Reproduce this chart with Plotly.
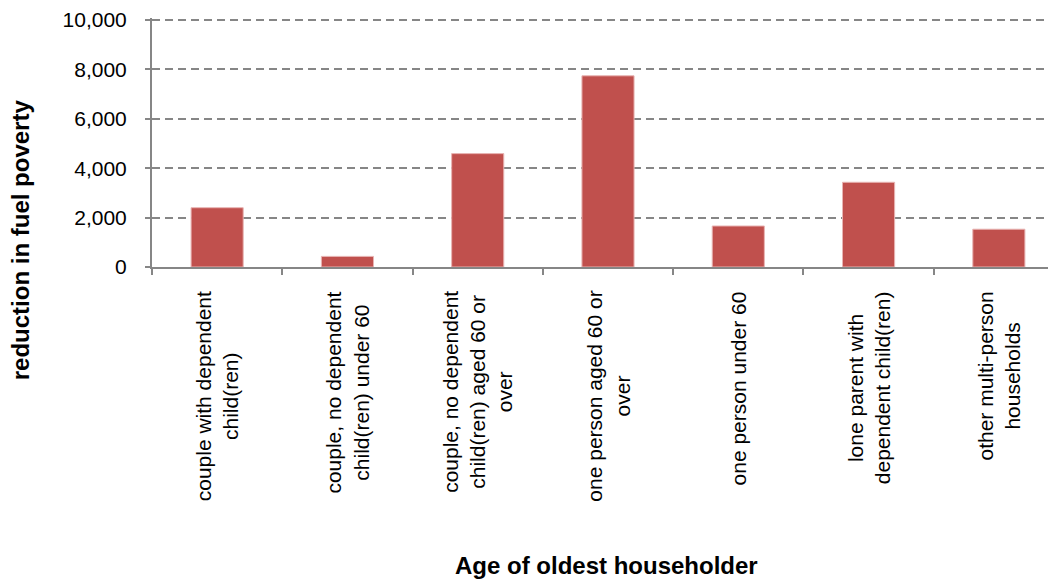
import plotly.graph_objects as go

categories = [
    "couple with dependent<br>child(ren)",
    "couple, no dependent<br>child(ren) under 60",
    "couple, no dependent<br>child(ren) aged 60 or<br>over",
    "one person aged 60 or<br>over",
    "one person under 60",
    "lone parent with<br>dependent child(ren)",
    "other multi-person<br>households",
]
reduction = [2400, 430, 4590, 7740, 1660, 3430, 1530]
y_ticks = [0, 2000, 4000, 6000, 8000, 10000]

FONT = "Liberation Sans, Arial, sans-serif"
AXIS = "#868686"

fig = go.Figure()
fig.add_trace(go.Bar(
    x=categories, y=reduction,
    marker=dict(color="#C0504D", line=dict(color="#E8B4B3", width=1)),
    width=0.4,
))

for c in categories:
    fig.add_annotation(
        x=c, xref="x", y=-0.089, yref="paper",
        text=c, textangle=-90, showarrow=False,
        xanchor="center", yanchor="top", align="center",
        font=dict(family=FONT, size=21, color="#000000"),
    )

fig.add_annotation(
    x=-0.1447, xref="paper", y=0.1076, yref="paper",
    text="<b>reduction in fuel poverty</b>", textangle=-90, showarrow=False,
    xanchor="center", yanchor="middle",
    font=dict(family=FONT, size=24, color="#000000"),
)
fig.add_annotation(
    x=0.498, xref="paper", y=-1.199, yref="paper",
    text="<b>Age of oldest householder</b>", showarrow=False,
    xanchor="center", yanchor="middle",
    font=dict(family=FONT, size=24, color="#000000"),
)

fig.update_layout(
    width=1056, height=583,
    margin=dict(l=144, r=0, t=8, b=324),
    paper_bgcolor="white", plot_bgcolor="white",
    showlegend=False,
    font=dict(family=FONT, size=21, color="#000000"),
)
fig.update_xaxes(
    showticklabels=False, showline=True, linecolor=AXIS, linewidth=2,
    ticks="outside", tickson="boundaries", ticklen=6, tickcolor=AXIS, tickwidth=1.5,
    showgrid=False,
)
fig.update_yaxes(
    range=[0, 10080], tickvals=y_ticks, tickformat=",",
    showline=True, linecolor=AXIS, linewidth=2,
    ticks="outside", ticklen=5, tickcolor=AXIS, tickwidth=1.5,
    ticklabelstandoff=14, ticklabeloverflow="allow",
    showgrid=True, gridcolor=AXIS, gridwidth=1.5, griddash="8px,5px",
    zeroline=False,
    tickfont=dict(family=FONT, size=21, color="#000000"),
)

fig.write_html("out.html")
